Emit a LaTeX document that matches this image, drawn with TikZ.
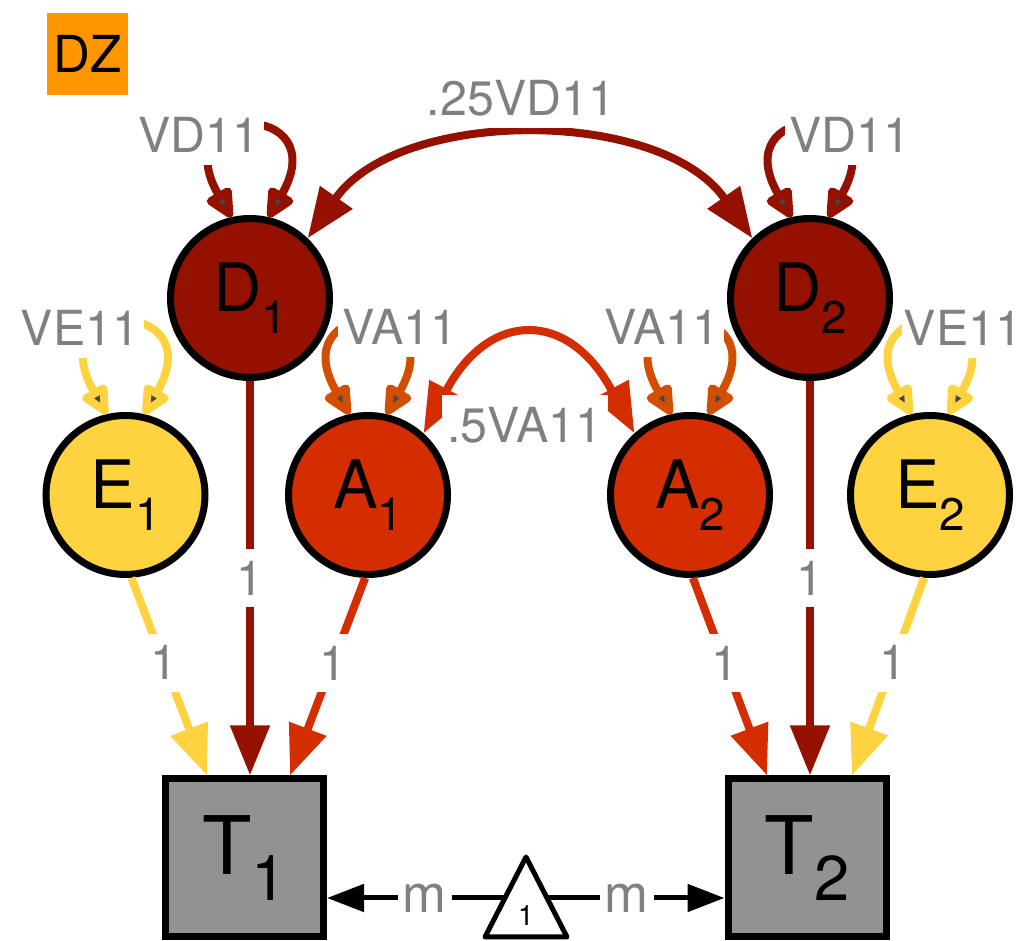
\documentclass[tikz,border=0pt]{standalone}
\usepackage{fontspec}
\setmainfont{TeX Gyre Heros}
\usepackage{xcolor}
\usepackage{tikz}
\usetikzlibrary{arrows.meta,calc}

\definecolor{dcol}{RGB}{148,17,0}
\definecolor{acol}{RGB}{212,46,0}
\definecolor{aloop}{RGB}{210,78,0}
\definecolor{ecol}{RGB}{255,210,64}
\definecolor{tcol}{RGB}{146,146,146}
\definecolor{dzcol}{RGB}{255,150,0}
\definecolor{labgray}{RGB}{128,128,128}
\definecolor{tipgray}{RGB}{70,70,70}

\newcommand{\lat}[2]{#1\raisebox{-12.5pt}{\fontsize{26}{28}\selectfont #2}}
\newcommand{\obs}[2]{#1\raisebox{-15pt}{\fontsize{36}{38}\selectfont #2}}

\begin{document}
\begin{tikzpicture}[
    latent/.style={circle, draw=black, line width=0.14cm, minimum size=3.18cm, inner sep=0pt, font=\fontsize{38}{40}\selectfont},
    manifest/.style={rectangle, draw=black, line width=0.14cm, fill=tcol, minimum size=3.16cm, inner sep=0pt, font=\fontsize{46}{48}\selectfont},
    elabel/.style={fill=white, text=labgray, inner xsep=0.1cm, inner ysep=0.24cm, font=\fontsize{27.5}{30}\selectfont},
    loadarr/.style={line width=0.16cm, -{Triangle[length=1cm,width=0.76cm]}},
    covarr/.style={line width=0.16cm, {Triangle[length=1cm,width=0.76cm]}-{Triangle[length=1cm,width=0.76cm]}},
    vararr/.style={line width=0.16cm, {Triangle[length=0.68cm,width=0.6cm,fill=tipgray,line join=round]}-{Triangle[length=0.68cm,width=0.6cm,fill=tipgray,line join=round]}},
    meanarr/.style={line width=0.1cm, -{Triangle[length=0.74cm,width=0.54cm]}}]
  \useasboundingbox (0,0) rectangle (20.4,18.82);
  \node[fill=dzcol, minimum width=1.62cm, minimum height=1.64cm, inner sep=0pt, font=\fontsize{29}{30}\selectfont] (dz) at (1.75,17.74) {DZ};

  % latent variables
  \node[latent, fill=dcol] (d1) at (5.0,12.86) {\lat{D}{1}};
  \node[latent, fill=dcol] (d2) at (16.2,12.86) {\lat{D}{2}};
  \node[latent, fill=ecol] (e1) at (2.51,8.92) {\lat{E}{1}};
  \node[latent, fill=acol] (a1) at (7.36,8.92) {\lat{A}{1}};
  \node[latent, fill=acol] (a2) at (13.8,8.92) {\lat{A}{2}};
  \node[latent, fill=ecol] (e2) at (18.6,8.92) {\lat{E}{2}};

  % observed twins
  \node[manifest] (t1) at (4.89,1.66) {\obs{T}{1}};
  \node[manifest] (t2) at (16.14,1.66) {\obs{T}{2}};

  % variances
  \foreach \n/\c in {d1/dcol, d2/dcol, a1/aloop, a2/aloop, e1/ecol, e2/ecol}
    \draw[vararr, draw=\c] (\n.103) .. controls +(120:2.7) and +(60:2.7) .. (\n.77);
  \node[elabel] (vd1) at (3.98,16.12) {VD11};
  \node[elabel] (vd2) at (17.0,16.12) {VD11};
  \node[elabel] (ve1) at (1.6,12.26) {VE11};
  \node[elabel] (va1) at (8.0,12.28) {VA11};
  \node[elabel] (va2) at (13.24,12.28) {VA11};
  \node[elabel, inner xsep=0.04cm] (ve2) at (19.26,12.26) {VE11};

  % covariances between twins
  \draw[covarr, dcol] (d1.46) .. controls +(55:3.2) and +(125:3.2) .. (d2.134);
  \node[elabel] (cd) at (10.42,16.86) {.25VD11};
  \draw[covarr, acol] (a1.48) .. controls +(62:2.8) and +(118:2.8) .. (a2.132);
  \node[elabel] (ca) at (10.5,10.32) {.5VA11};

  % loadings
  \draw[loadarr, ecol] (e1.-86) -- ($(t1.north)+(-0.75,0)$) node[elabel, pos=0.43] (le1) {1};
  \draw[loadarr, dcol] (d1.south) -- (d1.south |- t1.north) node[elabel, pos=0.5] (ld1) {1};
  \draw[loadarr, acol] (a1.-92) -- ($(t1.north)+(0.91,0)$) node[elabel, pos=0.43] (la1) {1};
  \draw[loadarr, acol] (a2.-88) -- ($(t2.north)+(-0.8,0)$) node[elabel, pos=0.43] (la2) {1};
  \draw[loadarr, dcol] (d2.south) -- (d2.south |- t2.north) node[elabel, pos=0.5] (ld2) {1};
  \draw[loadarr, ecol] (e2.-94) -- ($(t2.north)+(0.9,0)$) node[elabel, pos=0.43] (le2) {1};

  % means
  \draw[line width=0.1cm, line join=round, fill=white] (10.52,1.68) -- (9.7,0.08) -- (11.34,0.08) -- cycle;
  \node[font=\fontsize{16}{18}\selectfont] (one) at (10.52,0.5) {1};
  \coordinate (oneL) at (10.1,0.86);
  \coordinate (oneR) at (10.94,0.86);
  \draw[meanarr] (oneL) -- (oneL -| t1.east) node[elabel, inner ysep=0.1cm, pos=0.45, font=\fontsize{30}{32}\selectfont] (m1) {m};
  \draw[meanarr] (oneR) -- (oneR -| t2.west) node[elabel, inner ysep=0.1cm, pos=0.45, font=\fontsize{30}{32}\selectfont] (m2) {m};
\end{tikzpicture}
\end{document}
